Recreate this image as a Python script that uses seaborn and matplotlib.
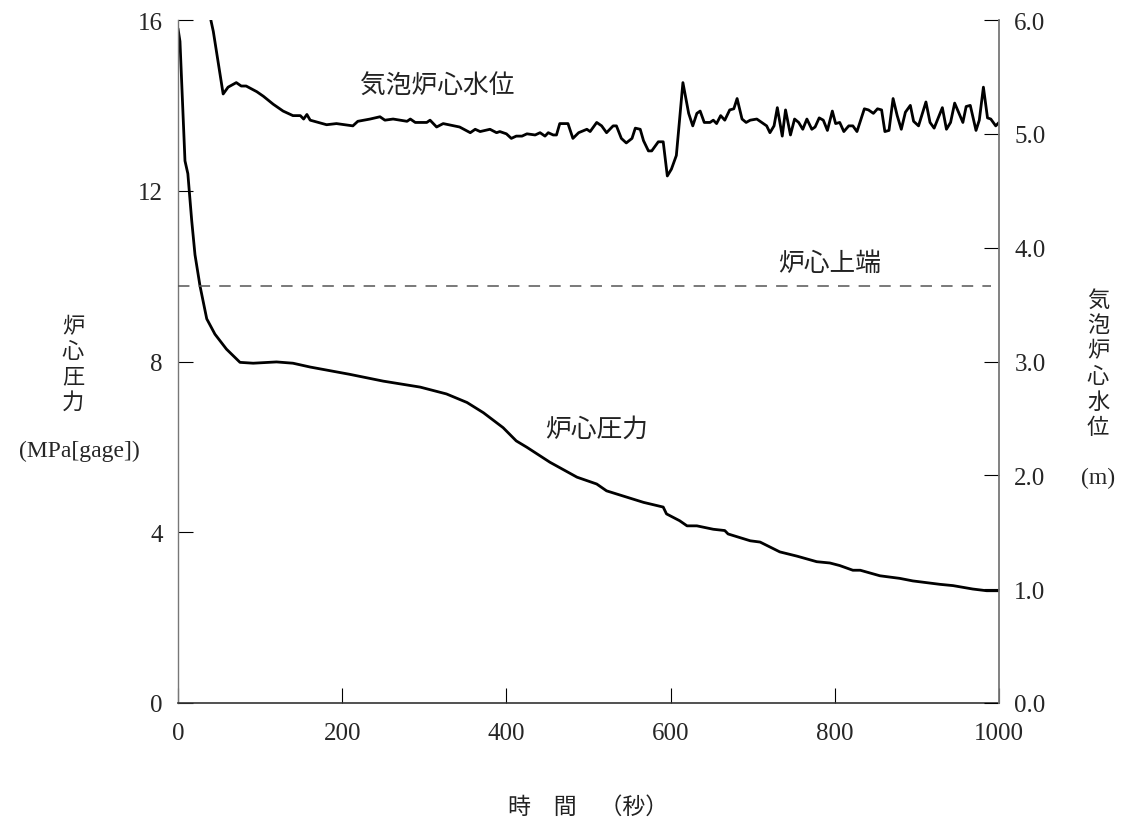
import matplotlib
matplotlib.use("Agg")
import matplotlib.pyplot as plt
import seaborn as sns
import pandas as pd
from matplotlib.ticker import FormatStrFormatter, FixedLocator

# ---------------- data ----------------
pressure_time = [0, 2.4, 8.5, 12, 16.7, 20.7, 26.8, 35, 45, 59, 75.5, 91.6, 120, 140, 161,
                 209, 250, 295, 327, 352, 372, 396, 412, 425, 453, 486, 510, 522, 542, 567,
                 591, 595, 611, 620, 632, 652, 666, 670, 697, 709, 733, 754, 778, 794, 806,
                 822, 831, 855, 879, 895, 928, 944, 968, 985, 1000]
pressure_mpa = [15.8, 15.5, 12.7, 12.4, 11.3, 10.5, 9.77, 9.0, 8.64, 8.29, 7.98, 7.96, 7.99, 7.96, 7.87,
                7.70, 7.54, 7.40, 7.24, 7.04, 6.80, 6.45, 6.14, 5.99, 5.64, 5.29, 5.13, 4.97, 4.85, 4.70,
                4.59, 4.43, 4.27, 4.15, 4.15, 4.07, 4.04, 3.96, 3.80, 3.77, 3.54, 3.44, 3.31, 3.28, 3.22,
                3.11, 3.11, 2.98, 2.92, 2.86, 2.78, 2.75, 2.67, 2.63, 2.63]

level_time = [40, 43, 55, 61, 71, 77, 83, 96, 104, 116, 128, 140, 149, 153, 157, 161, 181, 193,
              213, 219, 234, 246, 252, 262, 279, 283, 289, 303, 307, 315, 323, 343, 356, 362,
              368, 380, 388, 392, 400, 406, 412, 419, 425, 435, 441, 447, 451, 457, 461, 465,
              475, 481, 488, 498, 502, 510, 516, 522, 530, 534, 540, 546, 553, 557, 563, 567,
              573, 577, 585, 591, 596, 601, 607, 615, 622, 627, 632, 636, 641, 648, 652, 656,
              661, 666, 672, 677, 681, 687, 692, 697, 705, 711, 717, 721, 726, 730, 736, 740,
              746, 751, 756, 761, 766, 772, 776, 781, 786, 791, 797, 801, 806, 811, 817, 822,
              827, 836, 841, 847, 852, 857, 861, 866, 871, 876, 881, 886, 892, 896, 902, 911,
              916, 921, 931, 936, 941, 946, 956, 960, 965, 972, 976, 981, 986, 990, 996, 1000]
level_m = [6.00, 5.90, 5.35, 5.41, 5.45, 5.42, 5.42, 5.37, 5.33, 5.26, 5.20, 5.16, 5.16, 5.13, 5.17, 5.12, 5.08, 5.09,
           5.07, 5.11, 5.13, 5.15, 5.12, 5.13, 5.11, 5.13, 5.10, 5.10, 5.12, 5.06, 5.09, 5.06, 5.01, 5.04,
           5.02, 5.04, 5.01, 5.02, 5.00, 4.96, 4.98, 4.98, 5.00, 4.99, 5.01, 4.98, 5.01, 4.99, 4.99, 5.09,
           5.09, 4.96, 5.01, 5.04, 5.02, 5.10, 5.07, 5.01, 5.07, 5.07, 4.96, 4.92, 4.96, 5.05, 5.04, 4.94,
           4.85, 4.85, 4.93, 4.93, 4.63, 4.69, 4.81, 5.45, 5.18, 5.07, 5.18, 5.20, 5.10, 5.10, 5.12, 5.09,
           5.16, 5.12, 5.21, 5.22, 5.31, 5.13, 5.10, 5.12, 5.13, 5.10, 5.07, 5.01, 5.07, 5.23, 4.98, 5.21,
           4.99, 5.13, 5.10, 5.04, 5.13, 5.04, 5.06, 5.14, 5.12, 5.03, 5.20, 5.09, 5.10, 5.02, 5.07, 5.07,
           5.02, 5.22, 5.21, 5.18, 5.22, 5.21, 5.02, 5.03, 5.31, 5.16, 5.04, 5.19, 5.25, 5.11, 5.07, 5.28,
           5.10, 5.05, 5.23, 5.04, 5.10, 5.27, 5.10, 5.24, 5.25, 5.03, 5.12, 5.41, 5.14, 5.13, 5.07, 5.10]

core_top_time = [0, 990]
core_top_level = [3.66, 3.66]

x_ticks = [0, 200, 400, 600, 800, 1000]
p_ticks = [0, 4, 8, 12, 16]
h_ticks = [0, 1, 2, 3, 4, 5, 6]

label_level = "気泡炉心水位"
label_pressure = "炉心圧力"
label_core_top = "炉心上端"
xlabel = "時　間　（秒）"
ylabel_left = "炉心圧力"
ylabel_left_unit = "(MPa[gage])"
ylabel_right = "気泡炉心水位"
ylabel_right_unit = "(m)"

# ---------------- style ----------------
sns.set_style("ticks")
plt.rcParams['font.family'] = ['Liberation Serif', 'Noto Sans CJK JP', 'DejaVu Sans']
CJK = ['Noto Sans CJK JP', 'DejaVu Sans']

W, H = 1122, 820
fig = plt.figure(figsize=(W / 100, H / 100), dpi=100)
L, R, T, B = 178, 999, 21, 704
ax = fig.add_axes([L / W, 1 - B / H, (R - L) / W, (B - T) / H])
ax2 = ax.twinx()

df_p = pd.DataFrame({"t": pressure_time, "p": pressure_mpa})
df_h = pd.DataFrame({"t": level_time, "h": level_m})
df_c = pd.DataFrame({"t": core_top_time, "h": core_top_level})

sns.lineplot(data=df_p, x="t", y="p", ax=ax, color="black", lw=2.0, legend=False)
sns.lineplot(data=df_h, x="t", y="h", ax=ax2, color="black", lw=2.0, legend=False)
sns.lineplot(data=df_c, x="t", y="h", ax=ax2, color="#555555", lw=1.1,
             linestyle=(0, (7.5, 6.0)), legend=False)

ax.set_xlim(0, 1000)
ax.set_ylim(0, 16)
ax2.set_ylim(0, 6)

ax.xaxis.set_major_locator(FixedLocator(x_ticks))
ax.yaxis.set_major_locator(FixedLocator(p_ticks))
ax2.yaxis.set_major_locator(FixedLocator(h_ticks))
ax2.yaxis.set_major_formatter(FormatStrFormatter("%.1f"))

ax.tick_params(axis='y', direction='in', length=10.5, width=0.8, labelsize=18, pad=11, color='black')
ax.tick_params(axis='x', direction='in', length=10.5, width=0.8, labelsize=18, pad=14, color='black')
ax2.tick_params(axis='y', direction='in', length=10.5, width=0.8, labelsize=18, pad=11, color='black')

for a in (ax, ax2):
    a.set_xlabel("")
    a.set_ylabel("")
    a.spines['top'].set_visible(False)
ax.spines['right'].set_visible(False)
ax2.spines['left'].set_visible(False)
ax2.spines['bottom'].set_visible(False)
ax.spines['left'].set_color('#777777')
ax.spines['left'].set_linewidth(1.0)
ax.spines['bottom'].set_color('#333333')
ax.spines['bottom'].set_linewidth(1.2)
ax2.spines['right'].set_color('#777777')
ax2.spines['right'].set_linewidth(1.3)

# annotations (figure pixel coordinates)
def ftext(x, y, s, **kw):
    fig.text(x / W, 1 - y / H, s, ha='center', va='center', **kw)

ftext(437, 87, label_level, fontsize=18.5, family=CJK, color='#222222')
ftext(597, 430, label_pressure, fontsize=18.5, family=CJK, color='#222222')
ftext(830, 264, label_core_top, fontsize=18.5, family=CJK, color='#222222')

# x label
ftext(588, 807, xlabel, fontsize=16.5, family=CJK, color='#222222')

# vertical left label
for i, ch in enumerate(ylabel_left):
    ftext(73, 327 + i * 25, ch, fontsize=16, family=CJK, color='#222222')
ftext(79, 451, ylabel_left_unit, fontsize=17)

# vertical right label
for i, ch in enumerate(ylabel_right):
    ftext(1098, 300 + i * 25.5, ch, fontsize=16, family=CJK, color='#222222')
ftext(1098, 478, ylabel_right_unit, fontsize=17)

fig.savefig("out.png", dpi=100)
